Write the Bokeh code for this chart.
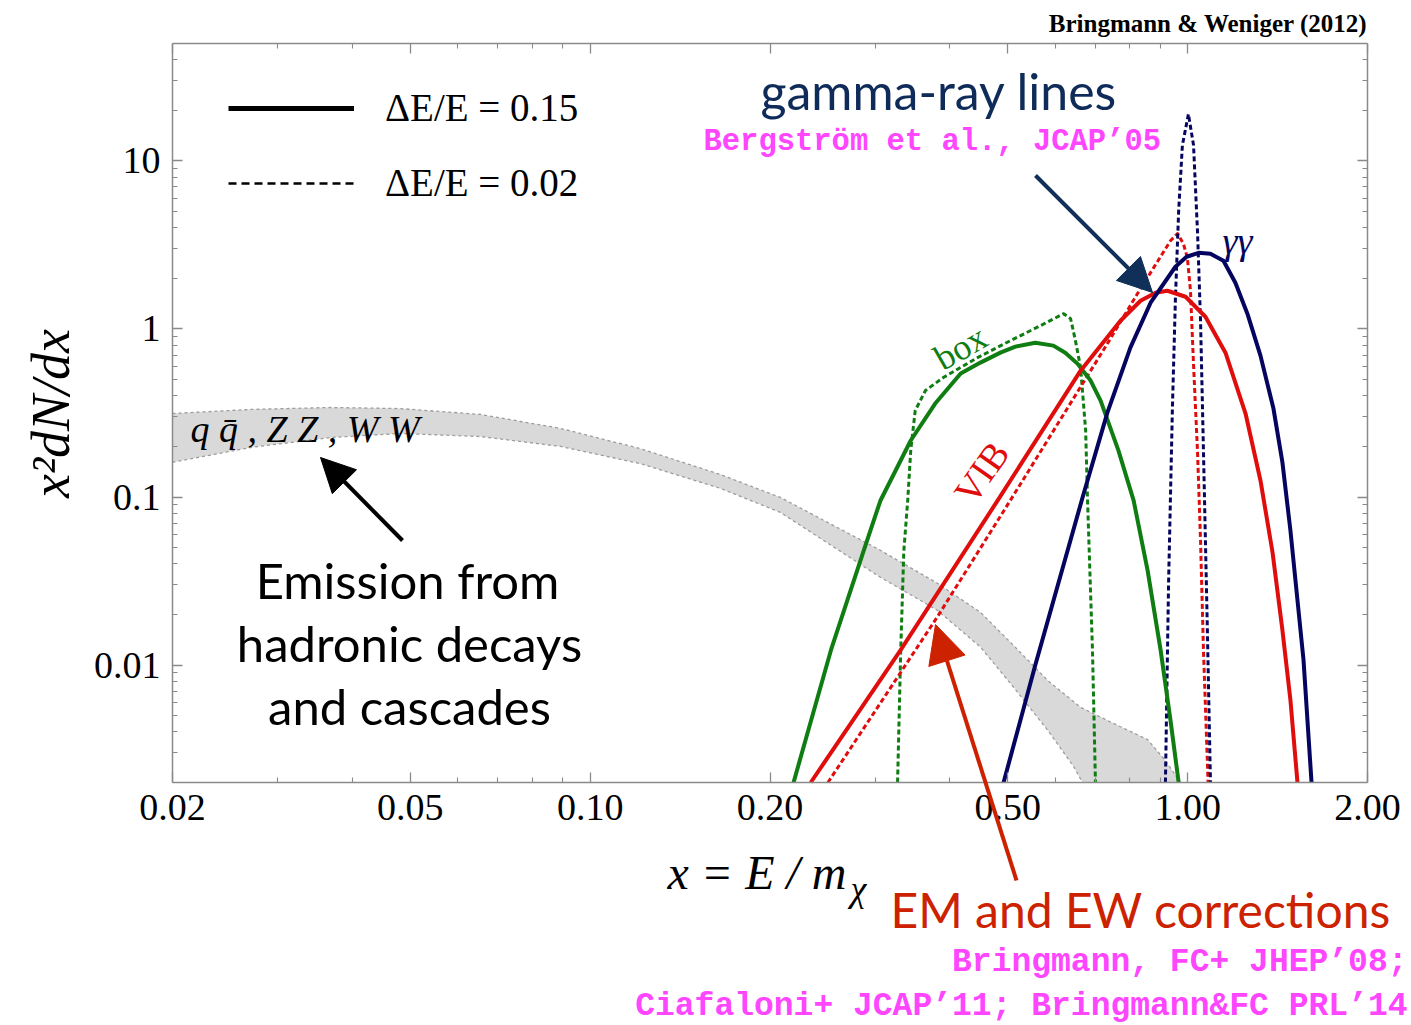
import math

import numpy as np
from bokeh.plotting import figure
from bokeh.models import (LogAxis, FixedTicker, CustomJSTickFormatter, Label, Range1d,
                          Arrow, NormalHead, Legend, LegendItem)
from bokeh.embed import file_html
from bokeh.resources import INLINE

# ---------------- spectra: x = E/m_chi, y = x^2 dN/dx ----------------
# internal bremsstrahlung "box" feature
box_x_015 = [0.219, 0.253, 0.287, 0.306, 0.344, 0.378, 0.417, 0.450, 0.486, 0.515, 0.556,
             0.596, 0.624, 0.654, 0.688, 0.715, 0.766, 0.812, 0.857, 0.901, 0.936, 0.966]
box_y_015 = [0.0020, 0.0123, 0.048, 0.095, 0.217, 0.36, 0.543, 0.631, 0.723, 0.785, 0.829,
             0.796, 0.723, 0.622, 0.493, 0.375, 0.189, 0.0955, 0.0366, 0.0123, 0.0047, 0.0020]
box_x_002 = [0.327, 0.331, 0.335, 0.340, 0.344, 0.350, 0.364, 0.390, 0.445, 0.505, 0.567,
             0.620, 0.637, 0.649, 0.662, 0.675, 0.680, 0.693, 0.701]
box_y_002 = [0.0020, 0.0123, 0.048, 0.095, 0.189, 0.327, 0.430, 0.514, 0.675, 0.852, 1.046,
             1.233, 1.151, 0.852, 0.589, 0.249, 0.0955, 0.0123, 0.0020]

# virtual internal bremsstrahlung
vib_x_015 = [0.234, 0.331, 0.481, 0.662, 0.772, 0.834, 0.884, 0.925, 0.992, 1.071, 1.157,
             1.250, 1.324, 1.387, 1.441, 1.486, 1.527]
vib_y_015 = [0.0020, 0.0123, 0.0955, 0.565, 1.12, 1.473, 1.643, 1.689, 1.555, 1.183, 0.723,
             0.314, 0.1255, 0.0469, 0.0161, 0.0062, 0.0020]
vib_x_002 = [0.250, 0.381, 0.505, 0.734, 0.824, 0.877, 0.936, 0.962, 0.984, 0.999, 1.011,
             1.023, 1.039, 1.051, 1.063, 1.082]
vib_y_002 = [0.0020, 0.0193, 0.0955, 0.818, 1.62, 2.31, 3.35, 3.70, 3.21, 2.65, 1.69,
             0.614, 0.184, 0.0552, 0.0121, 0.0020]

# gamma gamma line
gg_x_015 = [0.492, 0.556, 0.667, 0.734, 0.802, 0.867, 0.954, 0.996, 1.043, 1.092, 1.148,
            1.202, 1.259, 1.324, 1.392, 1.441, 1.486, 1.563, 1.612]
gg_y_015 = [0.0020, 0.0100, 0.0994, 0.318, 0.774, 1.433, 2.346, 2.69, 2.84, 2.80, 2.545,
            1.884, 1.233, 0.694, 0.336, 0.1606, 0.0633, 0.0107, 0.0020]
gg_x_002 = [0.918, 0.929, 0.943, 0.954, 0.966, 0.980, 1.003, 1.023, 1.039, 1.051, 1.063,
            1.079, 1.092]
gg_y_002 = [0.0020, 0.0298, 0.336, 1.51, 5.05, 12.4, 19.0, 12.4, 3.73, 1.12, 0.184,
            0.0163, 0.0020]

# continuum from hadronic decays (band between channels)
band_up_x = [0.02, 0.027, 0.0368, 0.0481, 0.0656, 0.0892, 0.1214, 0.1653, 0.2082, 0.306,
             0.381, 0.450, 0.511, 0.583, 0.662, 0.751, 0.857, 0.918, 0.973]
band_up_y = [0.314, 0.332, 0.341, 0.336, 0.310, 0.256, 0.194, 0.136, 0.0994, 0.0482,
             0.0307, 0.0206, 0.0131, 0.0081, 0.0056, 0.0045, 0.0036, 0.0027, 0.0020]
band_lo_x = [0.02, 0.027, 0.0368, 0.0481, 0.0656, 0.0892, 0.1214, 0.1653, 0.2082, 0.306,
             0.381, 0.450, 0.511, 0.583, 0.644, 0.667]
band_lo_y = [0.161, 0.197, 0.226, 0.239, 0.229, 0.200, 0.158, 0.1125, 0.081, 0.0333,
             0.0212, 0.0128, 0.0074, 0.0041, 0.0025, 0.0020]

# axis extent and ticks
X_BOX = (0.02, 2.0)
Y_BOX = (0.002, 50.0)
x_major = [0.02, 0.05, 0.1, 0.2, 0.5, 1.0, 2.0]
x_minor = [0.03, 0.04, 0.06, 0.07, 0.08, 0.09, 0.3, 0.4, 0.6, 0.7, 0.8, 0.9]
y_major = [0.01, 0.1, 1.0, 10.0]
y_minor = [0.003, 0.004, 0.005, 0.006, 0.007, 0.008, 0.009,
           0.02, 0.03, 0.04, 0.05, 0.06, 0.07, 0.08, 0.09,
           0.2, 0.3, 0.4, 0.5, 0.6, 0.7, 0.8, 0.9,
           2, 3, 4, 5, 6, 7, 8, 9, 20, 30, 40]

legend_labels = ["\u0394E/E = 0.15", "\u0394E/E = 0.02"]

# ---------------- page geometry ----------------
W, H = 1411, 1025
BOX_L, BOX_T, BOX_R, BOX_B = 172, 43, 1367, 782   # framed axes box on the page

DX = math.log10(X_BOX[1] / X_BOX[0]) / (BOX_R - BOX_L)   # decades per pixel
DY = math.log10(Y_BOX[1] / Y_BOX[0]) / (BOX_B - BOX_T)
x_range = Range1d(X_BOX[0] * 10 ** (-BOX_L * DX), X_BOX[1] * 10 ** ((W - BOX_R) * DX))
y_range = Range1d(Y_BOX[0] * 10 ** (-(H - BOX_B) * DY), Y_BOX[1] * 10 ** (BOX_T * DY))


def at(px, py):
    """Page pixel position -> data coordinates."""
    return X_BOX[0] * 10 ** ((px - BOX_L) * DX), Y_BOX[0] * 10 ** ((BOX_B - py) * DY)


GREEN = "#0f7d12"
RED = "#e00d0d"
NAVY = "#050560"
FRAME = "#8a8a8a"
MAGENTA = "#ff46ff"
SERIF = "Liberation Serif"
SANS = "Lato"
MONO = "Liberation Mono"

p = figure(width=W, height=H, x_axis_type="log", y_axis_type="log",
           x_range=x_range, y_range=y_range, output_backend="svg",
           toolbar_location=None, min_border=0, min_border_left=0, min_border_right=0,
           min_border_top=0, min_border_bottom=0,
           background_fill_color="white", border_fill_color="white",
           outline_line_color=None)
p.title.visible = False
p.grid.visible = False


def style_axis(ax, labels=True):
    ax.major_tick_in = 10
    ax.major_tick_out = 0
    ax.minor_tick_in = 5
    ax.minor_tick_out = 0
    ax.axis_line_color = FRAME
    ax.axis_line_width = 1.5
    ax.major_tick_line_color = FRAME
    ax.minor_tick_line_color = FRAME
    ax.major_tick_line_width = 1.3
    ax.minor_tick_line_width = 1.1
    ax.major_label_text_font = SERIF
    ax.major_label_text_color = "black"
    ax.major_label_text_font_size = "38px" if labels else "1px"
    ax.major_label_standoff = 12


fmt_x = CustomJSTickFormatter(code="return tick.toFixed(2);")
fmt_y = CustomJSTickFormatter(code="return String(tick);")

bottom_axis = p.xaxis[0]
bottom_axis.ticker = FixedTicker(ticks=x_major, minor_ticks=x_minor)
bottom_axis.formatter = fmt_x
bottom_axis.fixed_location = Y_BOX[0]
bottom_axis.bounds = X_BOX
left_axis = p.yaxis[0]
left_axis.ticker = FixedTicker(ticks=y_major, minor_ticks=y_minor)
left_axis.formatter = fmt_y
left_axis.fixed_location = X_BOX[0]
left_axis.bounds = Y_BOX
style_axis(bottom_axis)
style_axis(left_axis)

top_axis = LogAxis(ticker=FixedTicker(ticks=x_major, minor_ticks=x_minor),
                   formatter=CustomJSTickFormatter(code="return '';"),
                   fixed_location=Y_BOX[1], bounds=X_BOX)
right_axis = LogAxis(ticker=FixedTicker(ticks=y_major, minor_ticks=y_minor),
                     formatter=CustomJSTickFormatter(code="return '';"),
                     fixed_location=X_BOX[1], bounds=Y_BOX)
style_axis(top_axis, labels=False)
style_axis(right_axis, labels=False)
p.add_layout(top_axis, "above")
p.add_layout(right_axis, "right")

# ---------------- hadronic band ----------------
p.patch(band_up_x + band_lo_x[::-1], band_up_y + band_lo_y[::-1],
        fill_color="#d9d9d9", line_color=None)
p.line(band_up_x, band_up_y, line_color="#9c9c9c", line_width=1.3, line_dash="3 3")
p.line(band_lo_x, band_lo_y, line_color="#9c9c9c", line_width=1.3, line_dash="3 3")

# ---------------- spectral features ----------------
DOT = "5 3"
for xs, ys, col in [(box_x_002, box_y_002, GREEN), (vib_x_002, vib_y_002, RED),
                    (gg_x_002, gg_y_002, NAVY)]:
    p.line(xs, ys, line_color=col, line_width=3, line_dash=DOT, line_join="round")
for xs, ys, col in [(box_x_015, box_y_015, GREEN), (vib_x_015, vib_y_015, RED),
                    (gg_x_015, gg_y_015, NAVY)]:
    p.line(xs, ys, line_color=col, line_width=4, line_join="round")

# ---------------- legend (style samples only, nothing drawn in the frame) ----------------
nan = np.array([np.nan])
r_solid = p.line(nan, nan, line_color="black", line_width=5)
r_dot = p.line(nan, nan, line_color="black", line_width=2.5, line_dash="8 5")
legend = Legend(items=[LegendItem(label=legend_labels[0], renderers=[r_solid]),
                       LegendItem(label=legend_labels[1], renderers=[r_dot])],
                location=(228, H - 205), glyph_width=126, glyph_height=44,
                label_standoff=31, label_text_font=SERIF, label_text_font_size="39px",
                label_text_color="black", label_height=44, spacing=30,
                padding=0, margin=0, border_line_alpha=0, background_fill_alpha=0)
p.add_layout(legend)


# ---------------- annotations ----------------
def label(px, py, text, size, color="black", font=SERIF, style="normal",
          align="left", angle=0.0):
    x, y = at(px, py)
    p.add_layout(Label(x=x, y=y, text=text, text_font_size=f"{size}px",
                       text_color=color, text_font=font, text_font_style=style,
                       text_align=align, text_baseline="middle", angle=angle))


def arrow(tail, tip, color, width=4, head=30):
    x0, y0 = at(*tail)
    x1, y1 = at(*tip)
    p.add_layout(Arrow(end=NormalHead(size=head, fill_color=color, line_color=color),
                       x_start=x0, y_start=y0, x_end=x1, y_end=y1,
                       line_color=color, line_width=width))


label(1367, 23, "Bringmann & Weniger (2012)", 25, style="bold", align="right")
label(760, 90, "gamma-ray lines", 50, color="#0f2b59", font=SANS)
label(703, 141, "Bergstr\u00f6m et al., JCAP\u201905", 30.5, color=MAGENTA, font=MONO,
      style="bold")

label(960, 347, "box", 36, color=GREEN, align="center", angle=0.52)
label(981, 472, "VIB", 38, color=RED, align="center", angle=0.96)
label(1237, 240, "\u03b3\u03b3", 38, color=NAVY, style="italic", align="center")
label(190, 428, "q q\u0304 , Z Z , W W", 38, style="italic")

label(407, 579, "Emission from", 49, font=SANS, align="center")
label(409, 642, "hadronic decays", 49, font=SANS, align="center")
label(409, 705, "and cascades", 49, font=SANS, align="center")

label(890, 909, "EM and EW corrections", 48, color="#cc2200", font=SANS)
label(1407, 962, "Bringmann, FC+ JHEP\u201908;", 33, color=MAGENTA, font=MONO,
      style="bold", align="right")
label(1407, 1006, "Ciafaloni+ JCAP\u201911; Bringmann&FC PRL\u201914", 33, color=MAGENTA,
      font=MONO, style="bold", align="right")

label(846, 872, "x = E / m", 48, style="italic", align="right")
label(850, 888, "\u03c7", 36, style="italic")
label(50, 413, "x\u00b2dN/dx", 54, style="italic", align="center", angle=math.pi / 2)

arrow((402, 540), (320, 457), "black", head=34)
arrow((1035, 175), (1152, 292), "#10305a", head=34)
arrow((1016, 880), (935, 624), "#cc2200", head=38)

open("out.html", "w").write(file_html(p, INLINE))
